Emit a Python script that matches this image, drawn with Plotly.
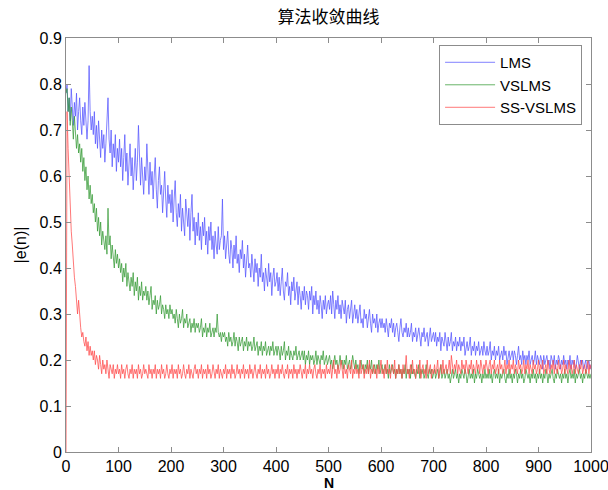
import plotly.graph_objects as go

# sample index (every 2nd iteration)
N = list(range(0, 1001, 2))

lms = [0.78,
 0.80,0.74,0.77,0.72,0.79, 0.75,0.71,0.76,0.73,0.78, 0.70,0.74,0.77,0.72,0.69, 0.75,0.71,0.76,0.73,0.68, 0.72,0.84,0.74,0.70,0.73,
 0.69,0.74,0.67,0.71,0.66, 0.72,0.68,0.64,0.70,0.66, 0.69,0.63,0.67,0.71,0.77, 0.68,0.65,0.70,0.62,0.67, 0.64,0.69,0.61,0.66,0.63,
 0.68,0.62,0.66,0.59,0.64, 0.69,0.61,0.65,0.58,0.63, 0.67,0.60,0.64,0.57,0.62, 0.66,0.59,0.63,0.71,0.61, 0.58,0.64,0.60,0.56,0.62,
 0.59,0.67,0.60,0.56,0.63, 0.58,0.61,0.55,0.60,0.64, 0.57,0.53,0.59,0.62,0.56, 0.58,0.52,0.57,0.61,0.55, 0.51,0.58,0.54,0.56,0.52,
 0.57,0.50,0.55,0.59,0.52, 0.49,0.54,0.51,0.56,0.48, 0.53,0.50,0.47,0.55,0.51, 0.49,0.53,0.46,0.52,0.56, 0.48,0.51,0.45,0.50,0.47,
 0.52,0.46,0.49,0.44,0.50, 0.47,0.51,0.45,0.48,0.43, 0.49,0.46,0.50,0.44,0.47, 0.42,0.48,0.45,0.43,0.49, 0.44,0.46,0.47,0.55,0.44,
 0.47,0.42,0.45,0.48,0.43, 0.41,0.46,0.44,0.40,0.45, 0.42,0.47,0.41,0.43,0.39, 0.44,0.42,0.46,0.40,0.43, 0.38,0.42,0.45,0.40,0.41,
 0.38,0.43,0.40,0.37,0.42, 0.39,0.41,0.36,0.40,0.38, 0.43,0.37,0.39,0.35,0.40, 0.38,0.36,0.41,0.37,0.39, 0.34,0.38,0.40,0.36,0.37,
 0.39,0.35,0.38,0.34,0.37, 0.40,0.35,0.33,0.37,0.36, 0.39,0.34,0.36,0.32,0.37, 0.35,0.38,0.33,0.35,0.37, 0.32,0.36,0.34,0.31,0.35,
 0.33,0.36,0.32,0.35,0.34, 0.31,0.35,0.33,0.36,0.30, 0.34,0.32,0.35,0.31,0.33, 0.30,0.34,0.32,0.29,0.33, 0.31,0.34,0.30,0.32,0.33,
 0.31,0.34,0.30,0.35,0.32, 0.29,0.33,0.31,0.34,0.30, 0.32,0.29,0.33,0.31,0.30, 0.33,0.28,0.31,0.32,0.29, 0.31,0.33,0.28,0.30,0.32,
 0.29,0.31,0.28,0.30,0.32, 0.28,0.29,0.27,0.31,0.29, 0.30,0.27,0.29,0.31,0.28, 0.26,0.30,0.28,0.29,0.27, 0.30,0.26,0.28,0.29,0.27,
 0.29,0.27,0.28,0.26,0.29, 0.27,0.25,0.28,0.27,0.29, 0.26,0.28,0.25,0.27,0.28, 0.26,0.24,0.27,0.29,0.26, 0.25,0.27,0.26,0.28,0.25,
 0.27,0.25,0.26,0.28,0.24, 0.26,0.25,0.27,0.24,0.26, 0.27,0.25,0.23,0.26,0.25, 0.27,0.24,0.25,0.26,0.23, 0.25,0.27,0.24,0.25,0.26,
 0.24,0.26,0.23,0.25,0.24, 0.26,0.22,0.25,0.24,0.23, 0.26,0.24,0.22,0.25,0.23, 0.24,0.26,0.22,0.24,0.23, 0.25,0.22,0.24,0.23,0.25,
 0.22,0.24,0.23,0.25,0.21, 0.23,0.24,0.22,0.23,0.25, 0.21,0.23,0.22,0.24,0.21, 0.23,0.22,0.24,0.21,0.22, 0.23,0.21,0.24,0.22,0.21,
 0.23,0.21,0.22,0.24,0.20, 0.22,0.21,0.23,0.20,0.22, 0.21,0.23,0.20,0.21,0.22, 0.20,0.23,0.21,0.22,0.19, 0.21,0.22,0.20,0.21,0.22,
 0.20,0.22,0.21,0.19,0.21, 0.23,0.20,0.21,0.19,0.22, 0.20,0.21,0.19,0.21,0.20, 0.22,0.19,0.20,0.21,0.19, 0.20,0.22,0.19,0.21,0.20,
 0.19,0.21,0.20,0.18,0.21, 0.19,0.20,0.21,0.19,0.20, 0.18,0.21,0.20,0.19,0.21, 0.18,0.20,0.19,0.21,0.20, 0.18,0.20,0.19,0.21,0.19,
 0.20,0.18,0.20,0.19,0.21, 0.18,0.20,0.19,0.20,0.18, 0.19,0.21,0.19,0.18,0.20, 0.19,0.20,0.18,0.19,0.20, 0.18,0.19,0.20,0.18,0.19]

vslms = [0.78,
 0.79,0.74,0.77,0.71,0.75, 0.72,0.68,0.73,0.70,0.66, 0.69,0.65,0.67,0.63,0.66, 0.61,0.64,0.59,0.62,0.57, 0.60,0.55,0.58,0.54,0.56,
 0.52,0.54,0.50,0.53,0.48, 0.51,0.47,0.50,0.45,0.48, 0.46,0.44,0.47,0.43,0.53, 0.45,0.47,0.42,0.45,0.43, 0.40,0.44,0.41,0.43,0.40,
 0.42,0.39,0.41,0.37,0.40, 0.38,0.41,0.36,0.39,0.37, 0.35,0.38,0.36,0.39,0.34, 0.37,0.35,0.38,0.33,0.36, 0.34,0.37,0.33,0.35,0.34,
 0.36,0.33,0.35,0.32,0.34, 0.36,0.31,0.33,0.32,0.34, 0.30,0.33,0.31,0.32,0.34, 0.30,0.32,0.31,0.29,0.32, 0.30,0.31,0.29,0.32,0.30,
 0.31,0.29,0.30,0.28,0.31, 0.29,0.27,0.30,0.28,0.29, 0.31,0.27,0.29,0.28,0.30, 0.27,0.28,0.29,0.26,0.28, 0.27,0.29,0.26,0.28,0.27,
 0.28,0.26,0.27,0.29,0.25, 0.27,0.26,0.28,0.25,0.27, 0.26,0.28,0.25,0.26,0.27, 0.25,0.27,0.26,0.30,0.26, 0.25,0.26,0.24,0.26,0.25,
 0.26,0.24,0.25,0.23,0.26, 0.24,0.25,0.23,0.24,0.26, 0.23,0.25,0.24,0.22,0.25, 0.23,0.24,0.25,0.22,0.24, 0.23,0.25,0.22,0.24,0.23,
 0.24,0.22,0.23,0.25,0.22, 0.23,0.24,0.21,0.23,0.22, 0.24,0.21,0.23,0.22,0.24, 0.21,0.22,0.23,0.21,0.23, 0.22,0.24,0.21,0.22,0.23,
 0.21,0.23,0.22,0.20,0.23, 0.21,0.22,0.24,0.20,0.22, 0.21,0.23,0.20,0.22,0.21, 0.20,0.22,0.21,0.23,0.20, 0.21,0.22,0.20,0.21,0.22,
 0.20,0.22,0.19,0.21,0.20, 0.22,0.19,0.21,0.20,0.21, 0.19,0.20,0.22,0.19,0.21, 0.20,0.19,0.21,0.20,0.22, 0.19,0.20,0.21,0.19,0.20,
 0.21,0.19,0.20,0.18,0.20, 0.21,0.19,0.20,0.18,0.19, 0.21,0.19,0.20,0.18,0.20, 0.19,0.21,0.18,0.19,0.20, 0.18,0.19,0.21,0.19,0.18,
 0.20,0.18,0.19,0.17,0.19, 0.20,0.18,0.19,0.17,0.19, 0.18,0.20,0.17,0.19,0.18, 0.20,0.17,0.18,0.19,0.17, 0.19,0.18,0.20,0.17,0.18,
 0.19,0.17,0.18,0.19,0.17, 0.18,0.16,0.19,0.17,0.18, 0.19,0.17,0.18,0.16,0.18, 0.17,0.19,0.17,0.18,0.16, 0.18,0.17,0.19,0.16,0.18,
 0.17,0.18,0.16,0.19,0.17, 0.18,0.17,0.16,0.18,0.17, 0.19,0.16,0.18,0.17,0.18, 0.16,0.17,0.19,0.17,0.16, 0.18,0.17,0.18,0.16,0.17,
 0.18,0.16,0.17,0.18,0.16, 0.17,0.19,0.16,0.17,0.18, 0.16,0.17,0.18,0.16,0.17, 0.15,0.17,0.18,0.16,0.17, 0.18,0.16,0.17,0.15,0.17,
 0.16,0.18,0.17,0.16,0.18, 0.17,0.15,0.17,0.18,0.16, 0.17,0.16,0.18,0.15,0.17, 0.16,0.18,0.17,0.16,0.17, 0.15,0.17,0.16,0.18,0.16,
 0.17,0.16,0.18,0.16,0.17, 0.15,0.17,0.18,0.16,0.17, 0.16,0.18,0.15,0.17,0.16, 0.17,0.18,0.16,0.15,0.17, 0.16,0.18,0.16,0.17,0.15,
 0.17,0.16,0.18,0.17,0.15, 0.17,0.16,0.18,0.16,0.17, 0.15,0.16,0.18,0.17,0.16, 0.17,0.15,0.17,0.16,0.18, 0.16,0.17,0.15,0.17,0.16,
 0.18,0.16,0.17,0.15,0.17, 0.16,0.18,0.17,0.15,0.17, 0.16,0.17,0.18,0.16,0.15, 0.17,0.16,0.18,0.17,0.16, 0.17,0.15,0.17,0.16,0.18,
 0.16,0.17,0.15,0.17,0.18, 0.16,0.17,0.16,0.18,0.15, 0.17,0.16,0.17,0.18,0.16, 0.17,0.15,0.17,0.16,0.18, 0.17,0.16,0.17,0.16,0.17]

ssvslms = [0.0,
 0.74,0.66,0.60,0.52,0.48, 0.45,0.40,0.38,0.36,0.33, 0.30,0.33,0.29,0.27,0.25, 0.26,0.24,0.23,0.25,0.22, 0.24,0.21,0.23,0.21,0.22,
 0.20,0.22,0.19,0.21,0.20, 0.18,0.21,0.19,0.17,0.20, 0.18,0.19,0.17,0.20,0.18, 0.16,0.19,0.18,0.17,0.19, 0.16,0.18,0.17,0.19,0.17,
 0.18,0.16,0.19,0.17,0.18, 0.16,0.18,0.19,0.17,0.16, 0.18,0.17,0.19,0.16,0.18, 0.17,0.18,0.16,0.19,0.17, 0.18,0.16,0.17,0.19,0.17,
 0.18,0.17,0.16,0.19,0.17, 0.18,0.16,0.18,0.17,0.19, 0.16,0.18,0.17,0.18,0.16, 0.19,0.17,0.18,0.16,0.17, 0.19,0.17,0.16,0.18,0.17,
 0.19,0.16,0.18,0.17,0.18, 0.16,0.19,0.17,0.18,0.16, 0.17,0.19,0.17,0.16,0.18, 0.17,0.19,0.16,0.18,0.17, 0.16,0.18,0.19,0.17,0.18,
 0.16,0.18,0.17,0.19,0.16, 0.18,0.17,0.18,0.16,0.19, 0.17,0.18,0.16,0.17,0.19, 0.17,0.16,0.18,0.17,0.19, 0.16,0.18,0.17,0.16,0.18,
 0.17,0.19,0.16,0.18,0.17, 0.18,0.16,0.19,0.17,0.18, 0.16,0.17,0.19,0.17,0.18, 0.16,0.18,0.17,0.19,0.16, 0.18,0.17,0.18,0.16,0.19,
 0.17,0.18,0.16,0.18,0.19, 0.17,0.16,0.18,0.17,0.19, 0.16,0.18,0.17,0.18,0.16, 0.19,0.17,0.18,0.16,0.17, 0.19,0.17,0.18,0.16,0.18,
 0.17,0.19,0.16,0.18,0.17, 0.19,0.17,0.16,0.18,0.17, 0.19,0.16,0.18,0.17,0.18, 0.16,0.19,0.17,0.18,0.16, 0.18,0.17,0.19,0.17,0.16,
 0.18,0.17,0.19,0.16,0.18, 0.17,0.19,0.17,0.18,0.16, 0.18,0.19,0.17,0.16,0.18, 0.17,0.19,0.16,0.18,0.17, 0.18,0.16,0.19,0.17,0.18,
 0.17,0.19,0.16,0.18,0.20, 0.17,0.18,0.16,0.19,0.17, 0.18,0.20,0.17,0.16,0.19, 0.17,0.18,0.16,0.19,0.18, 0.17,0.20,0.16,0.18,0.17,
 0.19,0.17,0.18,0.16,0.20, 0.17,0.18,0.19,0.16,0.18, 0.17,0.19,0.17,0.20,0.16, 0.18,0.17,0.19,0.17,0.18, 0.16,0.19,0.17,0.18,0.20,
 0.17,0.18,0.16,0.19,0.17, 0.20,0.17,0.18,0.16,0.19, 0.18,0.17,0.20,0.16,0.18, 0.17,0.19,0.17,0.18,0.16, 0.19,0.17,0.18,0.21,0.17,
 0.18,0.16,0.19,0.17,0.20, 0.17,0.18,0.16,0.19,0.18, 0.17,0.20,0.16,0.18,0.19, 0.17,0.18,0.16,0.20,0.17, 0.18,0.19,0.16,0.18,0.17,
 0.19,0.17,0.18,0.20,0.16, 0.18,0.19,0.17,0.20,0.17, 0.18,0.19,0.17,0.18,0.20, 0.17,0.21,0.18,0.17,0.19, 0.18,0.20,0.17,0.19,0.18,
 0.17,0.20,0.18,0.19,0.17, 0.20,0.18,0.17,0.19,0.18, 0.20,0.17,0.19,0.18,0.17, 0.20,0.18,0.19,0.17,0.20, 0.18,0.17,0.19,0.18,0.20,
 0.18,0.17,0.19,0.20,0.17, 0.19,0.18,0.20,0.17,0.18, 0.19,0.17,0.20,0.18,0.19, 0.17,0.18,0.20,0.17,0.19, 0.18,0.20,0.17,0.19,0.18,
 0.20,0.17,0.19,0.18,0.17, 0.20,0.18,0.19,0.17,0.18, 0.20,0.17,0.19,0.18,0.20, 0.17,0.19,0.18,0.17,0.20, 0.18,0.19,0.17,0.18,0.20,
 0.17,0.19,0.18,0.20,0.17, 0.18,0.19,0.17,0.20,0.18, 0.17,0.19,0.18,0.20,0.17, 0.19,0.18,0.17,0.20,0.18, 0.19,0.17,0.18,0.20,0.17,
 0.19,0.18,0.17,0.20,0.18, 0.19,0.17,0.18,0.20,0.17, 0.19,0.18,0.17,0.19,0.18, 0.20,0.17,0.18,0.19,0.17, 0.18,0.20,0.17,0.19,0.18]

names = ["LMS", "VSLMS", "SS-VSLMS"]
colors = ["rgb(85,85,255)", "rgb(55,155,55)", "rgb(255,75,75)"]

fig = go.Figure()
for name, ys, c in zip(names, [lms, vslms, ssvslms], colors):
    fig.add_trace(go.Scatter(x=N, y=ys, mode="lines", name=name,
                             line=dict(color=c, width=0.75)))

font_main = "Liberation Sans, Arial"
axis_common = dict(showgrid=False, zeroline=False, showline=True, mirror="ticks",
                   linecolor="#8c8c8c", linewidth=1, ticks="inside", ticklen=5,
                   tickcolor="#8c8c8c", automargin=False, ticklabeloverflow="allow",
                   tickfont=dict(family=font_main, size=16, color="black"))

fig.update_layout(
    width=608, height=490,
    margin=dict(l=66, r=17, t=38, b=38),
    paper_bgcolor="white", plot_bgcolor="white",
    title=dict(text="算法收敛曲线", x=0.5, xref="paper", y=1 - 17/490, yref="container",
               xanchor="center", yanchor="middle",
               font=dict(family="Noto Sans CJK SC", size=17, color="black")),
    xaxis=dict(range=[0, 1000], dtick=100, tick0=0, ticklabelstandoff=0, **axis_common),
    yaxis=dict(range=[0, 0.9], dtick=0.1, tick0=0,
               title=dict(text="|e(n)|", standoff=8, font=dict(family=font_main, size=16, color="black")),
               **axis_common),
    legend=dict(x=0.983, y=0.983, xanchor="right", yanchor="top",
                bordercolor="#8c8c8c", borderwidth=1, bgcolor="white",
                font=dict(family=font_main, size=15, color="black"),
                itemwidth=50, tracegroupgap=0),
    showlegend=True,
)

# x-axis title placed just below the tick labels
fig.add_annotation(text="<b>N</b>", xref="paper", yref="paper", x=0.5, y=-31/414,
                   xanchor="center", yanchor="middle", showarrow=False,
                   font=dict(family=font_main, size=14, color="black"))

fig.write_html("out.html", config={"displayModeBar": False},
               post_script="document.body.style.margin='0';document.body.style.overflow='hidden';")
